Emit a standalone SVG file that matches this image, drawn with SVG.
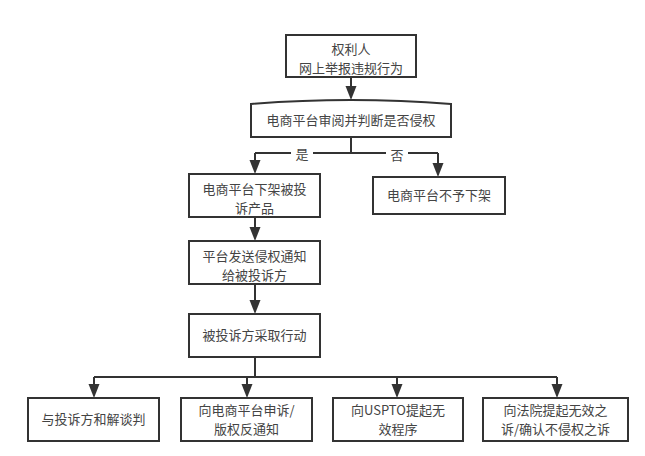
<svg xmlns="http://www.w3.org/2000/svg" width="645" height="456" viewBox="0 0 645 456">
<defs>
<style>
.n{fill:#fff;stroke:#333;stroke-width:2}
.t{font-family:"Noto Sans CJK SC","Noto Sans",sans-serif;font-size:13px;fill:#444;text-anchor:middle}
.c{fill:none;stroke:#333;stroke-width:2}
.a{fill:#333}
</style>
</defs>
<rect width="645" height="456" fill="#fff"/>
<g id="connectors">
<path class="c" d="M351,77 L351,86"/>
<path class="a" d="M345.5,86 L356.5,86 L351,100 Z"/>
<path class="c" d="M351,137 L351,153 M255,153 L438,153 M255,153 L255,161 M438,153 L438,163"/>
<path class="a" d="M249.5,160 L260.5,160 L255,174 Z"/>
<path class="a" d="M432.5,163 L443.5,163 L438,177 Z"/>
<path class="c" d="M255,217 L255,228"/>
<path class="a" d="M249.5,227 L260.5,227 L255,241 Z"/>
<path class="c" d="M255,284 L255,301"/>
<path class="a" d="M249.5,300 L260.5,300 L255,314 Z"/>
<path class="c" d="M255,357 L255,377 M94,377 L557,377 M94,377 L94,385 M247,377 L247,385 M397,377 L397,385 M557,377 L557,385"/>
<path class="a" d="M88.5,384 L99.5,384 L94,398 Z"/>
<path class="a" d="M241.5,384 L252.5,384 L247,398 Z"/>
<path class="a" d="M391.5,384 L402.5,384 L397,398 Z"/>
<path class="a" d="M551.5,384 L562.5,384 L557,398 Z"/>
<rect x="291" y="148" width="22" height="14" fill="#fff"/>
<text class="t" x="302" y="159">是</text>
<rect x="386" y="149" width="22" height="14" fill="#fff"/>
<text class="t" x="397" y="160">否</text>
</g>
<g id="n1">
<rect class="n" x="286" y="35" width="130" height="42"/>
<text class="t" x="351" y="53.5">权利人</text>
<text class="t" x="351" y="72.5">网上举报违规行为</text>
</g>
<g id="n2">
<path class="n" d="M251,104 Q351,96 451,104 L451,137 L251,137 Z"/>
<text class="t" x="351" y="125">电商平台审阅并判断是否侵权</text>
</g>
<g id="n3">
<rect class="n" x="189" y="174" width="131" height="43"/>
<text class="t" x="254.5" y="193.5">电商平台下架被投</text>
<text class="t" x="254.5" y="212.5">诉产品</text>
</g>
<g id="n4">
<rect class="n" x="373" y="177" width="132" height="37"/>
<text class="t" x="439" y="200">电商平台不予下架</text>
</g>
<g id="n5">
<rect class="n" x="189" y="241" width="131" height="43"/>
<text class="t" x="254.5" y="260.5">平台发送侵权通知</text>
<text class="t" x="254.5" y="279.5">给被投诉方</text>
</g>
<g id="n6">
<rect class="n" x="189" y="314" width="131" height="43"/>
<text class="t" x="254.5" y="340">被投诉方采取行动</text>
</g>
<g id="n7">
<rect class="n" x="28" y="398" width="131" height="43"/>
<text class="t" x="93.5" y="424">与投诉方和解谈判</text>
</g>
<g id="n8">
<rect class="n" x="181" y="398" width="131" height="43"/>
<text class="t" x="246.5" y="414.5">向电商平台申诉/</text>
<text class="t" x="246.5" y="433.5">版权反通知</text>
</g>
<g id="n9">
<rect class="n" x="333" y="398" width="130" height="43"/>
<text class="t" x="398" y="414.5">向USPTO提起无</text>
<text class="t" x="398" y="433.5">效程序</text>
</g>
<g id="n10">
<rect class="n" x="483" y="398" width="145" height="43"/>
<text class="t" x="555.5" y="414.5">向法院提起无效之</text>
<text class="t" x="555.5" y="433.5">诉/确认不侵权之诉</text>
</g>
</svg>
